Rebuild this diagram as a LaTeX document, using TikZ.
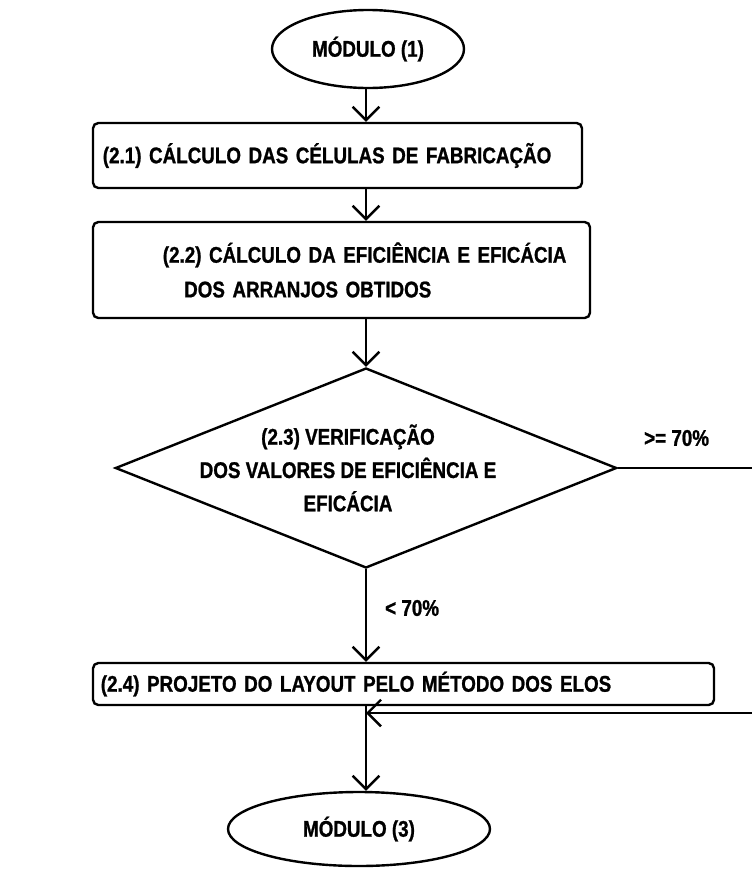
\documentclass[tikz,border=0pt]{standalone}
\usepackage{fontspec}
\setmainfont{Liberation Sans}[FakeStretch=0.83,BoldFeatures={FakeBold=1}]
\usetikzlibrary{shapes.geometric,arrows.meta}

\tikzset{every picture/.style={line width=1.8pt}}
\tikzset{
  termo/.style={draw, ellipse, inner sep=0pt},
  caixa/.style={draw, rectangle, rounded corners=4pt, inner sep=0pt},
  decisao/.style={draw, diamond, inner sep=0pt},
  rotulo/.style={inner sep=0.75pt},
  seta/.style={-{Straight Barb[length=10pt,width=20pt,line width=1.8pt]}}
}

\begin{document}
\begin{tikzpicture}[x=0.75pt,y=0.75pt,yscale=-1,xscale=1,font=\bfseries\fontsize{17}{20}\selectfont]
\useasboundingbox (0,0) rectangle (752,871);

% Terminador inicial
\node [termo, minimum width=144pt, minimum height=58.5pt] (mod1) at (368,49) {M\'ODULO (1)};
% Caixa 2.1
\node [caixa, minimum width=366.75pt, minimum height=48.75pt, text width=352pt, align=left] (calc1) at (337.5,155.5) {(2.1) C\'ALCULO DAS C\'ELULAS DE FABRICA\c{C}\~AO};
% Caixa 2.2
\node [caixa, minimum width=372.75pt, minimum height=72pt, text width=360pt, align=left] (calc2) at (341.5,270) {\hspace*{46pt}(2.2) C\'ALCULO DA EFICI\^ENCIA E EFIC\'ACIA\\[6pt]\hspace*{62pt}DOS ARRANJOS OBTIDOS};
% Decisao 2.3
\node [decisao, minimum width=376pt, minimum height=150pt] (verif) at (366,468) {};
\node [align=center, inner sep=0.75pt] (verift) at (348,468) {(2.3) VERIFICA\c{C}\~AO\\[5pt]DOS VALORES DE EFICI\^ENCIA E\\[5pt]EFIC\'ACIA};
% Caixa 2.4
\node [caixa, minimum width=465.75pt, minimum height=31.5pt, text width=454pt, align=left] (proj) at (403.5,684) {(2.4) PROJETO DO LAYOUT PELO M\'ETODO DOS ELOS};
% Terminador final
\node [termo, minimum width=196.5pt, minimum height=55.5pt] (mod3) at (359,829) {M\'ODULO (3)};

% Rotulos das saidas
\node [rotulo, anchor=west] (menor) at (383,608) {< 70\%};
\node [rotulo, anchor=west] (maior) at (642,438) {>= 70\%};

% Pontas livres na margem direita
\coordinate (saida) at (752,468);
\coordinate (volta) at (752,713);

% Ligacoes
\draw [seta] (mod1.south -| verif) -- (calc1.north -| verif);
\draw [seta] (calc1.south -| verif) -- (calc2.north -| verif);
\draw [seta] (calc2.south -| verif) -- (verif.north);
\draw [seta] (verif.south) -- (proj.north -| verif);
\draw [seta] (proj.south -| verif) -- (mod3.north -| verif);
\draw (verif.east) -- (saida);
\draw [seta] (volta) -- (volta -| verif);

\end{tikzpicture}
\end{document}
